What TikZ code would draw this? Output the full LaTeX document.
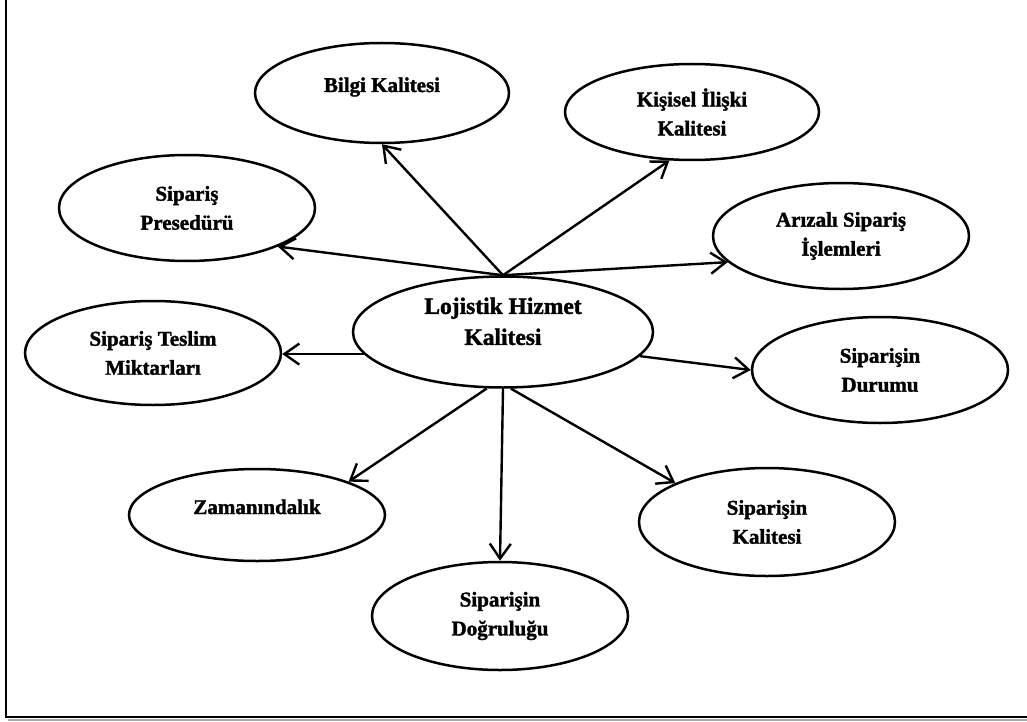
\documentclass[tikz,border=0pt]{standalone}
\usepackage{fontspec}
\setmainfont{Liberation Serif}[BoldFeatures={FakeBold=1.6}]
\usetikzlibrary{arrows.meta,shapes.geometric}
\begin{document}
\begin{tikzpicture}[x=1pt,y=-1pt,
  bubble/.style={ellipse,draw,line width=2.5pt,inner sep=0pt,
    minimum width=256pt,minimum height=106pt,align=center,
    font=\fontsize{21}{29}\selectfont\bfseries},
  raised/.style={text height=14pt,text depth=16pt},
  link/.style={line width=2.4pt,-{Straight Barb[length=15pt,width=21pt,line width=2.4pt]}}]
  \useasboundingbox (0,0) rectangle (1027,722);

  % frame (left and bottom edges with a light shadow)
  \draw[gray!70,line width=1.8pt] (8,720) -- (1027,720);
  \draw[line width=2.5pt] (6,0) -- (6,717) -- (1027,717);

  % central concept
  \node[bubble,minimum width=300pt,minimum height=111pt,text height=26pt,
        font=\fontsize{23.5}{31}\selectfont\bfseries] (c) at (503,332)
        {Lojistik Hizmet\\Kalitesi};

  % surrounding dimensions
  \node[bubble,raised,minimum width=254pt,minimum height=100pt] (bilgi) at (382,93) {Bilgi Kalitesi};
  \node[bubble,minimum width=254pt,minimum height=96pt] (kis) at (692,112) {Kişisel İlişki\\Kalitesi};
  \node[bubble] (pres) at (187,208) {Sipariş\\Presedürü};
  \node[bubble,minimum height=104pt] (tes) at (153,353) {Sipariş Teslim\\Miktarları};
  \node[bubble] (ariz) at (841,236) {Arızalı Sipariş\\İşlemleri};
  \node[bubble] (dur) at (880,370) {Siparişin\\Durumu};
  \node[bubble,raised,minimum height=92pt] (zam) at (257,515) {Zamanındalık};
  \node[bubble,minimum height=108pt] (dog) at (500,616) {Siparişin\\Doğruluğu};
  \node[bubble,minimum height=108pt] (kal) at (767,522) {Siparişin\\Kalitesi};

  % connectors
  \draw[link] (c.north) -- (bilgi.south);
  \draw[link] (c.north) -- (kis.245);
  \draw[link] (c.north) -- (pres.337);
  \draw[link] (c.north) -- (ariz.193);
  \draw[link] (c.189) -- (c.189 -| tes.east);
  \draw[link] (c.350) -- (dur.west);
  \draw[link] (c.254) -- (zam.20);
  \draw[link] (c.south) -- (dog.north);
  \draw[link] (c.278) -- (kal.157);
\end{tikzpicture}
\end{document}
